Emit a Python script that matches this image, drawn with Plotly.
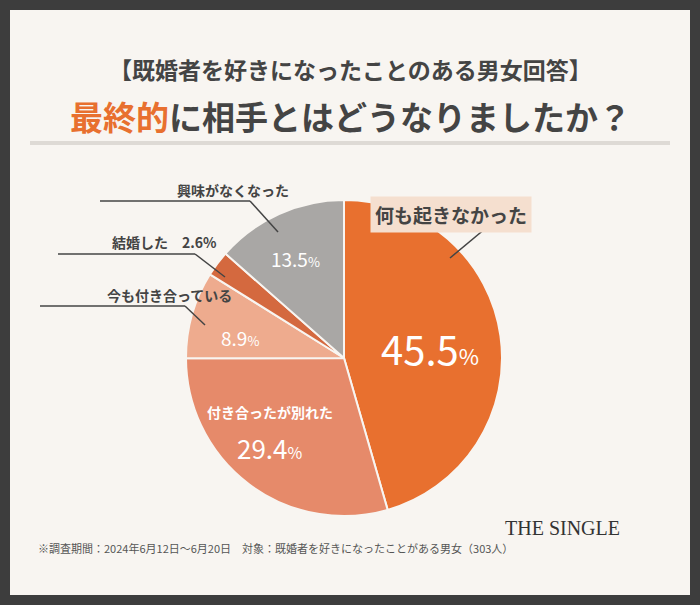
import plotly.graph_objects as go

labels = ["何も起きなかった", "付き合ったが別れた", "今も付き合っている", "結婚した", "興味がなくなった"]
values = [45.5, 29.4, 8.9, 2.6, 13.5]
colors = ["#e8702f", "#e68a6a", "#eeab8e", "#d4693f", "#a9a7a5"]

W, H = 700, 605
def px(x): return x / W
def py(y): return 1 - y / H

fig = go.Figure(go.Pie(
    labels=labels, values=values, sort=False, direction="clockwise", rotation=0,
    marker=dict(colors=colors, line=dict(color="#f8f5f1", width=2)),
    textinfo="none", hoverinfo="label+value", showlegend=False,
    domain=dict(x=[px(186), px(502)], y=[py(522), py(194)]),
))

F = "Noto Sans CJK JP"
dark = "#444444"
ann = []
def a(x, y, t, size, color=dark, **kw):
    d = dict(x=px(x), y=py(y), xref="paper", yref="paper", text=t, showarrow=False,
             font=dict(family=F, size=size, color=color))
    d.update(kw)
    ann.append(d)

a(350, 50, "<b>【既婚者を好きになったことのある男女回答】</b>", 23)
a(350, 90, "<b><span style='color:#e8702f'>最終的</span>に相手とはどうなりましたか？</b>", 33)
a(430, 348, f"{values[0]}<span style='font-size:22px'>%</span>", 40, "white")
a(270, 424, "<b>付き合ったが別れた</b>", 14, "white")
a(270, 468, f"{values[1]}<span style='font-size:16px'>%</span>", 26, "white")
a(240, 337, f"{values[2]}<span style='font-size:13px'>%</span>", 19, "white")
a(295, 258, f"{values[4]}<span style='font-size:13px'>%</span>", 19, "white")
a(532, 215, "<b>何も起きなかった</b>", 19, bgcolor="#f5dfcf", borderpad=4)
a(175, 178, "<b>興味がなくなった</b>", 14)
a(110, 242, f"<b>結婚した　{values[3]}%</b>", 14)
a(105, 295, "<b>今も付き合っている</b>", 14)
a(36, 558, "※調査期間：2024年6月12日～6月20日　対象：既婚者を好きになったことがある男女（303人）", 11, "#555555", xanchor="left")
a(622, 541, "THE SINGLE", 20, "#333333")
ann[-1]["font"]["family"] = "Liberation Serif"

shapes = [
    dict(type="rect", xref="paper", yref="paper", x0=0, x1=1, y0=0, y1=1, fillcolor="#3d3d3d", line_width=0, layer="below"),
    dict(type="rect", xref="paper", yref="paper", x0=px(10), x1=px(690), y0=py(595), y1=py(10), fillcolor="#f8f5f1", line_width=0, layer="below"),
    dict(type="line", xref="paper", yref="paper", x0=px(30), x1=px(670), y0=py(143), y1=py(143), line=dict(color="#dedad5", width=4)),
]
for x0, y0, x1, y1 in [(450, 258, 498, 218), (250, 201, 278, 232), (195, 254, 225, 277), (185, 306, 205, 325)]:
    shapes.append(dict(type="line", xref="paper", yref="paper", x0=px(x0), y0=py(y0), x1=px(x1), y1=py(y1), line=dict(color="#444444", width=1.5)))
shapes += [
    dict(type="line", xref="paper", yref="paper", x0=px(100), x1=px(250), y0=py(201), y1=py(201), line=dict(color="#444444", width=1.5)),
    dict(type="line", xref="paper", yref="paper", x0=px(58), x1=px(195), y0=py(254), y1=py(254), line=dict(color="#444444", width=1.5)),
    dict(type="line", xref="paper", yref="paper", x0=px(40), x1=px(185), y0=py(306), y1=py(306), line=dict(color="#444444", width=1.5)),
]

fig.update_layout(width=W, height=H, margin=dict(l=0, r=0, t=0, b=0),
                  paper_bgcolor="#3d3d3d", plot_bgcolor="#3d3d3d",
                  annotations=ann, shapes=shapes)
fig.write_html("out.html", config={"displayModeBar": False},
               post_script="document.body.style.margin='0';document.body.style.overflow='hidden';")
